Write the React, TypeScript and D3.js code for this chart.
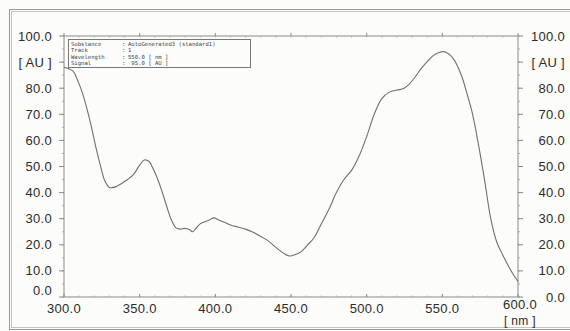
import React from 'react';
import * as d3 from 'd3';

// wavelength [nm] and absorbance [AU]
const wavelength = [
  300, 303, 306, 309, 312, 315, 318, 321, 324, 327, 330, 334, 338, 342, 346, 350, 353, 356, 359, 362,
  365, 368, 371, 374, 377, 380, 383, 385, 387, 390, 393, 396, 399, 402, 406, 410, 415, 420, 425, 430,
  435, 440, 445, 449, 453, 457, 461, 465, 470, 475, 480, 485, 490, 495, 500, 505, 510, 515, 520, 524,
  528, 532, 536, 540, 544, 548, 551, 554, 557, 560, 563, 566, 570, 574, 578, 582, 586, 590, 594, 597, 600,
];
const absorbance = [
  88, 87.5, 86.5, 83, 78.5, 72.5, 65.5, 57.5, 50.5, 44.5, 42, 42.2, 43.5, 45, 47, 50.5, 52.5, 52, 49, 45,
  40, 34.5, 29.5, 26.5, 26, 26.3, 25.8, 25, 26.2, 28, 28.8, 29.5, 30.3, 29.6, 28.6, 27.6, 26.8, 26, 24.8, 23.2,
  21.5, 19, 16.8, 15.7, 16.3, 17.5, 20, 22.5, 28, 33.5, 40, 45, 48.5, 54, 61.5, 70, 76, 78.5, 79.3, 79.8,
  81.5, 84.3, 87.5, 90.2, 92.5, 93.7, 94, 93.2, 91.5, 88.5, 84.3, 78.5, 70, 58, 44.5, 30, 21, 16, 11.5, 8.5, 6,
];

const yTicks = [0, 10, 20, 30, 40, 50, 60, 70, 80, 90, 100];
const yTickLabels = ['0.0', '10.0', '20.0', '30.0', '40.0', '50.0', '60.0', '70.0', '80.0', '[ AU ]', '100.0'];
const xTicks = [300, 350, 400, 450, 500, 550, 600];
const xTickLabels = ['300.0', '350.0', '400.0', '450.0', '500.0', '550.0', '600.0'];

const infoKeys = ['Substance', 'Track', 'Wavelength', 'Signal'];
const infoValues = ['AutoGenerated3 (standard1)', '1', '550.0 [ nm ]', ' 95.0 [ AU ]'];

export default function App() {
  const width = 570;
  const height = 331;
  const x = d3.scaleLinear().domain([300, 600]).range([64, 518]);
  const y = d3.scaleLinear().domain([0, 100]).range([297, 36]);

  const pts = wavelength.map((w, i) => [w, absorbance[i]] as [number, number]);
  const line = d3.line<[number, number]>()
    .x(d => x(d[0]))
    .y(d => y(d[1]))
    .curve(d3.curveCatmullRom.alpha(0.5));

  const minorY = d3.range(0, 101, 5);
  const minorX = d3.range(300, 601, 10);
  const labelFont = "'Liberation Sans', Arial, sans-serif";
  const textColor = '#2b2b2b';
  const axisColor = '#8a8a8a';

  return (
    <svg width={width} height={height} style={{ position: 'absolute', left: 0, top: 0, background: '#fcfcfb' }}>
      <rect x={9.5} y={9.5} width={580} height={320} fill="none" stroke="#9a9a9a" strokeWidth={1} />
      <rect x={11.5} y={11.5} width={580} height={316} fill="none" stroke="#c4c4c4" strokeWidth={1} />

      {/* frame */}
      <line x1={x(300)} x2={x(600)} y1={y(100)} y2={y(100)} stroke={axisColor} />
      <line x1={x(300)} x2={x(600)} y1={y(0)} y2={y(0)} stroke={axisColor} />
      <line x1={x(300)} x2={x(300)} y1={y(0)} y2={y(100)} stroke={axisColor} />
      <line x1={x(600)} x2={x(600)} y1={y(0)} y2={y(100)} stroke={axisColor} />

      {minorY.map(v => (
        <g key={'my' + v} stroke="#aaa">
          <line x1={x(300) - 2} x2={x(300)} y1={y(v)} y2={y(v)} />
          <line x1={x(600)} x2={x(600) + 2} y1={y(v)} y2={y(v)} />
        </g>
      ))}
      {yTicks.map(v => (
        <g key={'ty' + v} stroke={axisColor}>
          <line x1={x(300) - 5} x2={x(300)} y1={y(v)} y2={y(v)} />
          <line x1={x(600)} x2={x(600) + 5} y1={y(v)} y2={y(v)} />
        </g>
      ))}
      {minorX.map(v => (
        <g key={'mx' + v} stroke="#b0b0b0">
          <line x1={x(v)} x2={x(v)} y1={y(0)} y2={y(0) - 1.5} />
          <line x1={x(v)} x2={x(v)} y1={y(100)} y2={y(100) + 1.5} />
        </g>
      ))}
      {xTicks.map(v => (
        <g key={'tx' + v} stroke={axisColor}>
          <line x1={x(v)} x2={x(v)} y1={y(0)} y2={y(0) - 3} />
          <line x1={x(v)} x2={x(v)} y1={y(100)} y2={y(100) - 3} />
        </g>
      ))}

      <g fontFamily={labelFont} fontSize={13} fill={textColor} letterSpacing={0.3}>
        {yTicks.map((v, i) => (
          <text key={'ly' + v} x={52} y={v === 0 ? y(v) - 7 : y(v)} dy="0.35em" textAnchor="end">
            {yTickLabels[i]}
          </text>
        ))}
        {yTicks.map((v, i) => (
          <text key={'ry' + v} x={565} y={y(v)} dy="0.35em" textAnchor="end">
            {yTickLabels[i]}
          </text>
        ))}
        {xTicks.map((v, i) => (
          <text key={'lx' + v} x={x(v) + (v === 600 ? 2 : 0)} y={v === 600 ? 304 : 308} dy="0.35em" textAnchor="middle">
            {xTickLabels[i]}
          </text>
        ))}
        <text x={x(600) + 2} y={321} dy="0.35em" textAnchor="middle" fontSize={12}>[ nm ]</text>
      </g>

      <path d={line(pts) ?? ''} fill="none" stroke="#6f6f6f" strokeWidth={1.1} />

      {/* info box */}
      <rect x={68.5} y={39.5} width={182} height={28} fill="#fcfcfb" stroke="#777" />
      <g fontFamily="'DejaVu Sans Mono', monospace" fontSize={5.6} fill="#444">
        {infoKeys.map((k, i) => (
          <g key={k}>
            <text x={71} y={45.5 + i * 6.5}>{k}</text>
            <text x={122} y={45.5 + i * 6.5}>:</text>
            <text x={128} y={45.5 + i * 6.5} style={{ whiteSpace: 'pre' }}>{infoValues[i]}</text>
          </g>
        ))}
      </g>
    </svg>
  );
}
